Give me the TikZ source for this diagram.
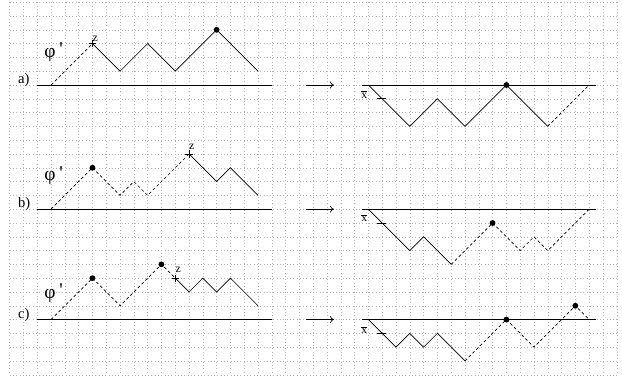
\documentclass[tikz,border=0pt]{standalone}
\usepackage{fontspec}
\setmainfont{Liberation Serif}
\usetikzlibrary{arrows.meta, shapes.misc}

\begin{document}
\begin{tikzpicture}[x=0.5cm, y=-0.5cm,
    gridline/.style={gray!60, line width=0.45pt, dash pattern=on 0.5pt off 2.9pt},
    axis/.style={line width=1pt},
    walk/.style={line width=0.7pt},
    ghost/.style={line width=0.7pt, dash pattern=on 3pt off 2.5pt},
    tick/.style={line width=0.7pt},
    dot/.style={circle, fill, inner sep=0pt, minimum size=6pt},
    plus/.style={cross out, draw, rotate=45, minimum size=4.5pt, inner sep=0pt, line width=0.7pt},
    lbl/.style={font=\fontsize{15}{18}\selectfont, inner sep=0pt},
    phi/.style={font=\fontsize{20}{24}\selectfont, inner sep=0pt, anchor=west},
    small/.style={font=\fontsize{12}{14}\selectfont, inner sep=0pt},
    arrow/.style={-{To[length=4pt, width=7pt]}, line width=0.7pt}
]
\useasboundingbox (-0.7,-0.16) rectangle (44.38,27.09);

% grid
\foreach \i in {0,...,44} \draw[gridline] (\i,0) -- (\i,27);
\foreach \j in {0,...,27} \draw[gridline] (0,\j) -- (44,\j);

% row a, left
\draw[axis] (2,6) -- (19,6);
\draw[ghost] (3,6) -- (6,3);
\draw[walk] (6,3) -- (8,5) -- (10,3) -- (12,5) -- (15,2) -- (18,5);
\node[dot] (topa) at (15,2) {};
\node[plus] (za) at (6,3) {};
\node[small] (zla) at (6.2,2.62) {z};
\node[lbl] (la) at (1.03,5.64) {a)};
\node[phi] (phia) at (2.5,3.8) {φ\hspace{4pt}\smash{\raisebox{1.5pt}{\textquotesingle}}};

% row a, right
\coordinate (fa) at (21.5,6);
\coordinate (ta) at (23.5,6);
\draw[arrow] (fa) -- (ta);
\draw[axis] (25.5,6) -- (42.5,6);
\draw[walk] (26,6) -- (29,9) -- (31,7) -- (33,9) -- (36,6) -- (39,9);
\draw[ghost] (39,9) -- (42,6);
\node[dot] (topa') at (36,6) {};
\draw[tick] (26.65,7) -- (27.25,7);
\node[small] (xa) at (25.7,6.7) {$\overline{\mbox{x}}$};

% row b, left
\draw[axis] (2,15) -- (19,15);
\draw[ghost] (3,15) -- (6,12) -- (8,14) -- (9,13) -- (10,14) -- (13,11);
\draw[walk] (13,11) -- (15,13) -- (16,12) -- (18,14);
\node[dot] (topb) at (6,12) {};
\node[plus] (zb) at (13,11) {};
\node[small] (zlb) at (13.2,10.47) {z};
\node[lbl] (lb) at (1.06,14.62) {b)};
\node[phi] (phib) at (2.5,12.74) {φ\hspace{4pt}\smash{\raisebox{1.5pt}{\textquotesingle}}};

% row b, right
\coordinate (fb) at (21.5,15);
\coordinate (tb) at (23.5,15);
\draw[arrow] (fb) -- (tb);
\draw[axis] (25.5,15) -- (42.5,15);
\draw[walk] (26,15) -- (29,18) -- (30,17) -- (32,19);
\draw[ghost] (32,19) -- (35,16) -- (37,18) -- (38,17) -- (39,18) -- (42,15);
\node[dot] (topb') at (35,16) {};
\draw[tick] (26.65,16) -- (27.25,16);
\node[small] (xb) at (25.7,15.66) {$\overline{\mbox{x}}$};

% row c, left
\draw[axis] (2,23) -- (19,23);
\draw[ghost] (3,23) -- (6,20) -- (8,22) -- (11,19) -- (12,20);
\draw[walk] (12,20) -- (13,21) -- (14,20) -- (15,21) -- (16,20) -- (18,22);
\node[dot] (topc) at (6,20) {};
\node[dot] (midc) at (11,19) {};
\node[plus] (zc) at (12,20) {};
\node[small] (zlc) at (12.22,19.4) {z};
\node[lbl] (lc) at (1.03,22.67) {c)};
\node[phi] (phic) at (2.5,21.3) {φ\hspace{4pt}\smash{\raisebox{2.5pt}{\textquotesingle}}};

% row c, right
\coordinate (fc) at (21.5,23);
\coordinate (tc) at (23.5,23);
\draw[arrow] (fc) -- (tc);
\draw[axis] (25.5,23) -- (42.5,23);
\draw[walk] (26,23) -- (28,25) -- (29,24) -- (30,25) -- (31,24) -- (33,26);
\draw[ghost] (33,26) -- (36,23) -- (38,25) -- (41,22) -- (42,23);
\node[dot] (topc') at (36,23) {};
\node[dot] (endc') at (41,22) {};
\draw[tick] (26.65,24) -- (27.25,24);
\node[small] (xc) at (25.7,23.75) {$\overline{\mbox{x}}$};

\end{tikzpicture}
\end{document}
